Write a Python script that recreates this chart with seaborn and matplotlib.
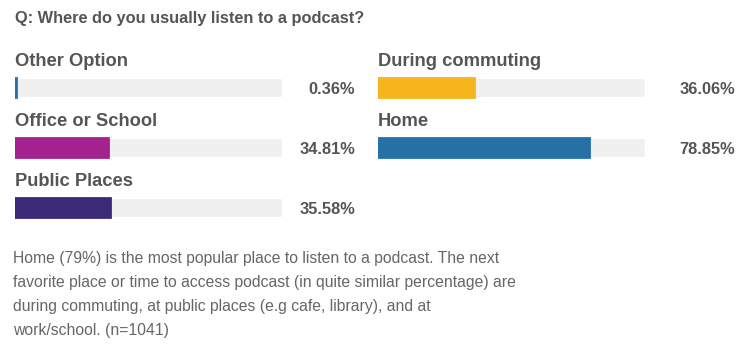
import matplotlib.pyplot as plt
import pandas as pd
import seaborn as sns

# survey answers, split into the two columns of the reference
left_places = ["Other Option", "Office or School", "Public Places"]
left_shares = [0.36, 34.81, 35.58]
left_colors = ["#2a6fa6", "#a3228f", "#3a2a78"]

right_places = ["During commuting", "Home"]
right_shares = [36.06, 78.85]
right_colors = ["#f6b51c", "#2470a7"]

title = "Q: Where do you usually listen to a podcast?"
note = ("Home (79%) is the most popular place to listen to a podcast. The next\n"
        "favorite place or time to access podcast (in quite similar percentage) are\n"
        "during commuting, at public places (e.g cafe, library), and at\n"
        "work/school. (n=1041)")

sns.set_style("white")
plt.rcParams["font.family"] = ["Liberation Sans", "DejaVu Sans"]

W, H = 737, 351
fig = plt.figure(figsize=(W / 100, H / 100), dpi=100)
fig.patch.set_facecolor("white")

txt_color = "#555555"
track_color = "#f0f0f0"


def panel(x0, places, shares, colors, value_x):
    # axes placed in pixels: track 267 px wide, 3 rows of 60 px
    ax = fig.add_axes([x0 / W, 1 - 237.5 / H, 267 / W, 180 / H])
    df = pd.DataFrame({"place": places, "share": shares})
    df["full"] = 100
    sns.barplot(data=df, x="full", y="place", color=track_color, saturation=1,
                width=0.32, ax=ax)
    sns.barplot(data=df, x="share", y="place", hue="place", palette=colors,
                saturation=1, width=0.32, legend=False, ax=ax)
    for p in ax.patches[len(places):]:
        p.set_edgecolor(p.get_facecolor())
        p.set_linewidth(2)
    ax.set_xlim(0, 100)
    ax.set_ylim(2.5, -0.5)
    ax.axis("off")
    for i, (name, val) in enumerate(zip(places, shares)):
        ax.text(0, i - 0.43, name, ha="left", va="center", fontsize=13.2,
                fontweight="bold", color=txt_color)
        ax.text(value_x, i + 0.03, f"{val:.2f}%", transform=ax.get_yaxis_transform(),
                ha="right", va="center", fontsize=11.8, fontweight="bold", color=txt_color)
    return ax


panel(15, left_places, left_shares, left_colors, (355 - 15) / 267)
panel(378, right_places, right_shares, right_colors, (735 - 378) / 267)

fig.text(15 / W, 1 - 18 / H, title, ha="left", va="center", fontsize=11.75,
         fontweight="bold", color=txt_color)
fig.text(13 / W, 1 - 251 / H, note, ha="left", va="top", fontsize=11.3,
         color="#666666", linespacing=1.76)

fig.savefig("out.png", dpi=100, facecolor="white")
